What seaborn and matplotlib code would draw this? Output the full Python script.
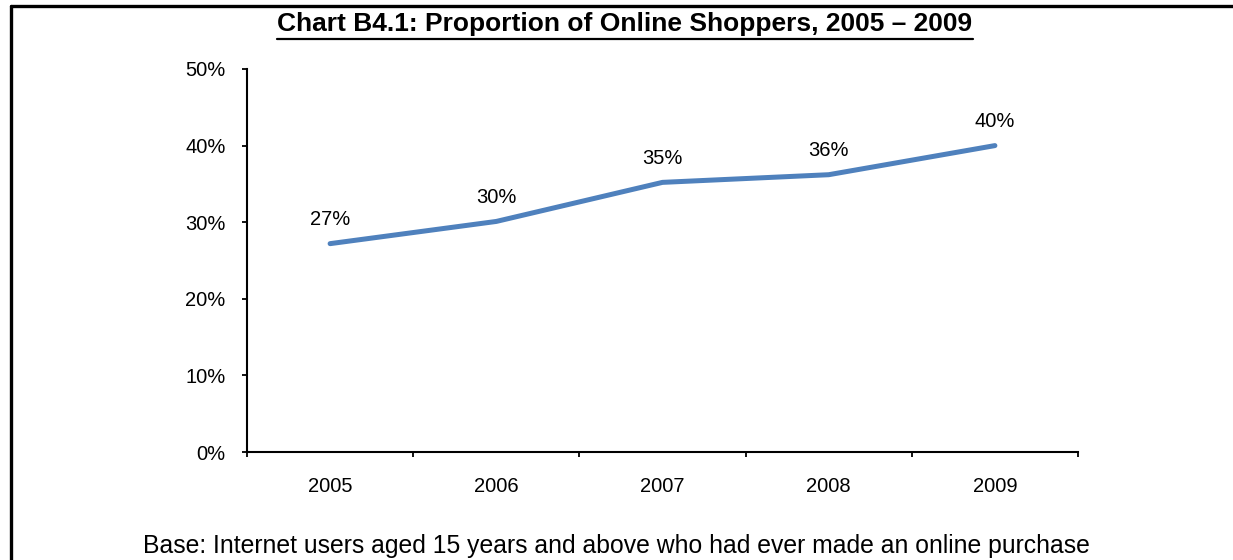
import matplotlib
matplotlib.use("Agg")
import matplotlib.pyplot as plt
import seaborn as sns
import pandas as pd
import numpy as np
from matplotlib.lines import Line2D
from matplotlib.ticker import FixedLocator, FuncFormatter

years = ["2005", "2006", "2007", "2008", "2009"]
shoppers = [27.2, 30.1, 35.2, 36.2, 40.0]
labels = ["27%", "30%", "35%", "36%", "40%"]
yticks = [0, 10, 20, 30, 40, 50]

sns.set_theme(style="white")
plt.rcParams['font.family'] = ['Liberation Sans', 'DejaVu Sans']

df = pd.DataFrame({"year": years, "share": shoppers})

W, H = 1233, 560
fig = plt.figure(figsize=(W / 100, H / 100), dpi=100)
ax = fig.add_axes([247/W, 1-452/H, (1078-247)/W, (452-69)/H])

sns.lineplot(data=df, x="year", y="share", ax=ax, color="#4F81BD", linewidth=3.6,
             sort=False)

ax.set_xlim(-0.5, len(years) - 0.5)
ax.set_ylim(0, 50)
ax.set_yticks(yticks)
ax.yaxis.set_major_formatter(FuncFormatter(lambda v, p: f"{v:.0f}%"))
ax.set_xlabel("")
ax.set_ylabel("")

# category boundaries as minor ticks
ax.xaxis.set_minor_locator(FixedLocator(np.arange(-0.5, len(years), 1.0)))
ax.tick_params(axis="x", which="major", length=0, labelsize=14.5, pad=18, colors="black")
ax.tick_params(axis="x", which="minor", length=3.5, width=1.3, direction="out", bottom=True, color="black")
ax.tick_params(axis="y", which="major", length=3.5, width=1.3, direction="out", left=True,
               labelsize=14.5, pad=12, colors="black")

for side in ["top", "right"]:
    ax.spines[side].set_visible(False)
for side in ["left", "bottom"]:
    ax.spines[side].set_color("black")
    ax.spines[side].set_linewidth(1.5)

for i, (v, t) in enumerate(zip(shoppers, labels)):
    ax.annotate(t, (i, v), xytext=(0, 13.5), textcoords="offset points",
                ha="center", va="baseline", fontsize=14.5, color="black")

# title with underline
title = fig.text(625/W, 1-30.5/H, "Chart B4.1: Proportion of Online Shoppers, 2005 \u2013 2009",
                 ha="center", va="baseline", fontsize=19, fontweight="bold", color="black")
fig.canvas.draw()
bb = title.get_window_extent()
x0, x1 = bb.x0 / fig.bbox.width, bb.x1 / fig.bbox.width
fig.add_artist(Line2D([x0, x1], [1-38.5/H, 1-38.5/H], transform=fig.transFigure,
                      color="black", linewidth=1.6))

fig.text(616/W, 1-553/H,
         "Base: Internet users aged 15 years and above who had ever made an online purchase",
         ha="center", va="baseline", fontsize=17.8, color="black")

# frame lines (top and left)
fig.add_artist(Line2D([10.5/W, 1.0], [1-6/H, 1-6/H], transform=fig.transFigure,
                      color="black", linewidth=2.4))
fig.add_artist(Line2D([10.5/W, 10.5/W], [0, 1-6/H], transform=fig.transFigure,
                      color="black", linewidth=2.4))

fig.savefig("out.png", dpi=100)
